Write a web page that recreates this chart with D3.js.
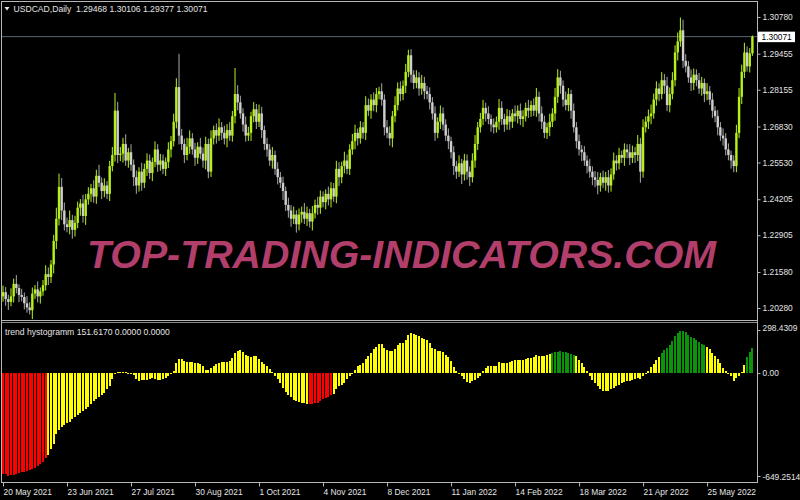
<!DOCTYPE html>
<html><head><meta charset="utf-8">
<script src="https://cdn.jsdelivr.net/npm/d3@7"></script>
<style>html,body{margin:0;padding:0;background:#000;}svg{display:block}</style>
</head><body>
<svg id="chart" width="800" height="500"></svg>
<script>
// ---------------- DATA ----------------
const symbolTitle = "USDCAD,Daily  1.29468 1.30106 1.29377 1.30071";
const indicatorTitle = "trend hystogramm 151.6170 0.0000 0.0000";
const lastPrice = 1.30071;

const opens = [
1.2070,1.2085,1.2060,1.2050,1.2070,1.2115,1.2100,1.2075,1.2068,1.2045,
1.2030,1.2020,1.2080,1.2095,1.2070,1.2088,1.2110,1.2150,1.2140,1.2185,
1.2270,1.2350,1.2465,1.2380,1.2330,1.2320,1.2345,1.2310,1.2335,1.2390,
1.2405,1.2360,1.2420,1.2440,1.2460,1.2430,1.2505,1.2480,1.2450,1.2470,
1.2440,1.2540,1.2580,1.2740,1.2580,1.2585,1.2620,1.2560,1.2590,1.2545,
1.2500,1.2470,1.2520,1.2480,1.2530,1.2560,1.2515,1.2555,1.2600,1.2545,
1.2560,1.2530,1.2555,1.2600,1.2630,1.2700,1.2825,1.2650,1.2620,1.2580,
1.2610,1.2640,1.2600,1.2570,1.2610,1.2585,1.2560,1.2620,1.2520,1.2640,
1.2670,1.2650,1.2680,1.2660,1.2640,1.2670,1.2650,1.2720,1.2800,1.2770,
1.2730,1.2690,1.2650,1.2660,1.2720,1.2745,1.2700,1.2730,1.2670,1.2620,
1.2600,1.2560,1.2580,1.2530,1.2500,1.2480,1.2450,1.2400,1.2380,1.2350,
1.2365,1.2330,1.2365,1.2375,1.2350,1.2370,1.2340,1.2370,1.2400,1.2390,
1.2430,1.2410,1.2440,1.2420,1.2460,1.2430,1.2530,1.2500,1.2540,1.2560,
1.2530,1.2600,1.2630,1.2660,1.2640,1.2680,1.2660,1.2760,1.2740,1.2780,
1.2760,1.2800,1.2810,1.2780,1.2680,1.2660,1.2640,1.2720,1.2760,1.2820,
1.2800,1.2830,1.2880,1.2940,1.2870,1.2840,1.2860,1.2820,1.2840,1.2810,
1.2800,1.2770,1.2730,1.2660,1.2700,1.2730,1.2690,1.2650,1.2630,1.2590,
1.2540,1.2520,1.2550,1.2510,1.2560,1.2520,1.2500,1.2560,1.2620,1.2680,
1.2710,1.2750,1.2730,1.2710,1.2690,1.2680,1.2700,1.2750,1.2710,1.2690,
1.2720,1.2700,1.2730,1.2720,1.2740,1.2710,1.2720,1.2750,1.2740,1.2760,
1.2740,1.2790,1.2730,1.2700,1.2660,1.2680,1.2700,1.2730,1.2790,1.2860,
1.2830,1.2780,1.2760,1.2800,1.2740,1.2680,1.2630,1.2600,1.2590,1.2560,
1.2540,1.2520,1.2500,1.2490,1.2470,1.2500,1.2480,1.2500,1.2470,1.2510,
1.2560,1.2550,1.2580,1.2570,1.2600,1.2590,1.2570,1.2590,1.2580,1.2620,
1.2520,1.2680,1.2700,1.2720,1.2730,1.2780,1.2820,1.2800,1.2850,1.2830,
1.2760,1.2800,1.2850,1.2950,1.2990,1.3030,1.2920,1.2900,1.2860,1.2840,
1.2870,1.2850,1.2820,1.2840,1.2800,1.2810,1.2780,1.2740,1.2720,1.2680,
1.2650,1.2640,1.2600,1.2580,1.2560,1.2540,1.2660,1.2790,1.2880,1.2950,
1.2900,1.29468];

const closes = [
1.2085,1.2060,1.2050,1.2070,1.2115,1.2100,1.2075,1.2068,1.2045,1.2030,
1.2020,1.2080,1.2095,1.2070,1.2088,1.2110,1.2150,1.2140,1.2185,1.2270,
1.2350,1.2465,1.2380,1.2330,1.2320,1.2345,1.2310,1.2335,1.2390,1.2405,
1.2360,1.2420,1.2440,1.2460,1.2430,1.2505,1.2480,1.2450,1.2470,1.2440,
1.2540,1.2580,1.2740,1.2580,1.2585,1.2620,1.2560,1.2590,1.2545,1.2500,
1.2470,1.2520,1.2480,1.2530,1.2560,1.2515,1.2555,1.2600,1.2545,1.2560,
1.2530,1.2555,1.2600,1.2630,1.2700,1.2825,1.2650,1.2620,1.2580,1.2610,
1.2640,1.2600,1.2570,1.2610,1.2585,1.2560,1.2620,1.2520,1.2640,1.2670,
1.2650,1.2680,1.2660,1.2640,1.2670,1.2650,1.2720,1.2800,1.2770,1.2730,
1.2690,1.2650,1.2660,1.2720,1.2745,1.2700,1.2730,1.2670,1.2620,1.2600,
1.2560,1.2580,1.2530,1.2500,1.2480,1.2450,1.2400,1.2380,1.2350,1.2365,
1.2330,1.2365,1.2375,1.2350,1.2370,1.2340,1.2370,1.2400,1.2390,1.2430,
1.2410,1.2440,1.2420,1.2460,1.2430,1.2530,1.2500,1.2540,1.2560,1.2530,
1.2600,1.2630,1.2660,1.2640,1.2680,1.2660,1.2760,1.2740,1.2780,1.2760,
1.2800,1.2810,1.2780,1.2680,1.2660,1.2640,1.2720,1.2760,1.2820,1.2800,
1.2830,1.2880,1.2940,1.2870,1.2840,1.2860,1.2820,1.2840,1.2810,1.2800,
1.2770,1.2730,1.2660,1.2700,1.2730,1.2690,1.2650,1.2630,1.2590,1.2540,
1.2520,1.2550,1.2510,1.2560,1.2520,1.2500,1.2560,1.2620,1.2680,1.2710,
1.2750,1.2730,1.2710,1.2690,1.2680,1.2700,1.2750,1.2710,1.2690,1.2720,
1.2700,1.2730,1.2720,1.2740,1.2710,1.2720,1.2750,1.2740,1.2760,1.2740,
1.2790,1.2730,1.2700,1.2660,1.2680,1.2700,1.2730,1.2790,1.2860,1.2830,
1.2780,1.2760,1.2800,1.2740,1.2680,1.2630,1.2600,1.2590,1.2560,1.2540,
1.2520,1.2500,1.2490,1.2470,1.2500,1.2480,1.2500,1.2470,1.2510,1.2560,
1.2550,1.2580,1.2570,1.2600,1.2590,1.2570,1.2590,1.2580,1.2620,1.2520,
1.2680,1.2700,1.2720,1.2730,1.2780,1.2820,1.2800,1.2850,1.2830,1.2760,
1.2800,1.2850,1.2950,1.2990,1.3030,1.2920,1.2900,1.2860,1.2840,1.2870,
1.2850,1.2820,1.2840,1.2800,1.2810,1.2780,1.2740,1.2720,1.2680,1.2650,
1.2640,1.2600,1.2580,1.2560,1.2540,1.2660,1.2790,1.2880,1.2950,1.2900,
1.29468,1.30071];

// wick extension beyond the candle body, in pips (0.0001)
const upperWickPips = [
24,19,16,29,19,32,13,22,16,26, 19,22,16,29,14,19,32,24,16,22,
40,48,32,29,24,35,19,26,22,16, 32,19,24,16,29,22,40,19,26,16,
19,29,64,32,24,22,35,16,29,19, 24,16,32,19,26,22,16,29,19,24,
22,16,26,19,29,32,120,24,19,32, 29,19,24,16,32,22,26,19,29,16,
24,32,19,26,22,29,19,94,32,24, 19,29,22,16,26,19,32,24,16,22,
19,29,16,24,19,22,16,26,19,29, 16,22,19,32,24,16,26,19,29,22,
19,16,26,22,19,29,24,16,32,22, 19,26,29,16,22,19,32,24,19,26,
22,16,29,19,26,24,19,32,22,26, 19,29,20,22,16,26,19,29,22,19,
24,19,26,16,29,22,19,26,16,22, 19,29,16,24,22,19,26,32,19,22,
29,19,26,16,22,19,32,24,19,26, 22,16,29,19,26,22,19,29,16,24,
32,19,26,22,16,29,19,32,30,24, 19,29,22,16,26,19,24,16,22,19,
26,19,22,29,16,24,19,26,22,29, 19,26,16,22,19,29,24,19,32,22,
29,19,24,32,22,26,19,29,22,32, 24,29,26,32,46,38,24,19,29,22,
19,26,22,16,29,19,24,16,22,19, 26,19,22,16,19,29,32,26,35,22,
19,4];
const lowerWickPips = [
19,24,29,16,22,19,26,16,22,19, 15,32,19,22,26,16,19,29,22,32,
29,24,35,22,19,26,32,24,19,29, 24,32,19,29,22,26,16,29,22,19,
26,19,24,29,22,32,19,26,22,32, 30,22,29,19,26,22,29,19,26,22,
19,26,22,29,19,24,32,22,29,19, 26,19,29,22,19,26,32,24,19,22,
29,19,26,22,32,19,22,26,29,19, 26,22,19,29,22,26,19,29,22,26,
19,29,22,26,19,32,22,26,29,19, 30,22,29,19,26,22,32,19,26,22,
19,26,22,29,19,24,32,22,26,19, 22,19,29,26,19,22,26,19,29,22,
26,19,22,29,19,26,32,22,19,26, 22,26,19,29,22,19,26,22,29,19,
26,22,29,19,26,22,19,29,22,32, 26,19,35,22,29,32,19,26,22,19,
22,29,19,26,22,19,29,22,26,19, 29,22,19,26,22,29,19,26,22,19,
22,29,26,19,22,32,19,26,22,29, 26,19,22,29,19,26,22,32,19,26,
22,29,26,32,22,19,29,26,22,19, 26,22,19,29,22,26,19,29,22,40,
22,19,26,29,19,22,26,19,29,22, 26,19,22,29,19,26,22,19,29,26,
22,19,26,29,22,19,26,22,29,19, 26,22,19,29,22,22,19,26,22,19,
22,9];

const histValues = [
-600,-604,-612,-610,-606,-600,-596,-592,-590,-586,-580,-574,-566,-556,-544,-530,-504,
-490,-450,-420,-364,-340,-324,-312,-300,-290,-276,-264,-250,-236,-224,-216,-204,-184,-164,-154,-144,-130,-116,-96,-76,-36,-4,
8,6,4,4,-4,-2,-10,-36,-46,-44,-40,-40,-36,-32,-36,-40,-40,-36,-30,-16,-4,10,
60,86,84,70,64,68,64,60,58,56,40,20,16,30,44,56,60,64,66,66,70,90,120,132,138,124,110,104,96,104,100,84,
66,56,40,24,6,
-16,-36,-60,-90,-110,-130,-144,-160,-166,-172,-176,-178,-182,-186,-184,-180,-176,-166,-156,-146,-140,-132,-124,-96,-80,-72,-60,-36,-20,0,
20,40,50,60,84,104,120,144,156,174,174,150,140,134,134,144,170,180,180,196,224,236,230,224,220,210,204,196,180,150,144,134,134,124,106,96,70,36,14,
-4,-20,-36,-52,-60,-50,-40,-30,-16,10,30,40,44,44,44,64,60,60,60,64,70,76,80,76,76,84,90,90,94,110,100,
104,100,106,112,118,124,128,130,128,126,122,116,110,100,80,60,35,10,-15,-40,-60,-80,-95,-105,-108,-104,-96,-88,-78,-70,-62,-55,-50,-46,-40,-36,-30,-34,-20,-5,15,35,55,75,95,120,140,150,165,190,220,240,
252,252,246,226,216,208,198,186,172,166,158,146,122,102,82,58,28,10,-2,-16,-46,-32,-16,4,50,94,124,151.617];
const histRedRanges = [[0,16],[115,123]];
const histGreenRanges = [[206,214],[247,263],[279,281]];

const priceTicks = [1.30780,1.29455,1.28155,1.26830,1.25530,1.24205,1.22905,1.21580,1.20280];
const histTicks = [298.4309, 0, -649.2514];
const histTickLabels = ["298.4309","0.00","-649.2514"];
const dateTickBars = [0,24,48,72,96,120,144,168,192,216,240,264];
const dateTickLabels = ["20 May 2021","23 Jun 2021","27 Jul 2021","30 Aug 2021","1 Oct 2021","4 Nov 2021",
  "8 Dec 2021","11 Jan 2022","14 Feb 2022","18 Mar 2022","21 Apr 2022","25 May 2022"];
const watermark = "TOP-TRADING-INDICATORS.COM";

// ---------------- DRAWING ----------------
const W = 800, H = 500;
const left = 2, axisX = 757;
const mainTop = 2, mainBottom = 320, histTop = 323, histBottom = 482;
const FONT = "'Liberation Sans', Arial, sans-serif";
const textCol = "#e4e4e4", frameCol = "#b8b8b8";
const bullCol = "#b6f21a", bearCol = "#cfcfcf", bearWick = "#a8a8a8";

const svg = d3.select("#chart");
svg.append("rect").attr("width", W).attr("height", H).attr("fill", "#000");

const defs = svg.append("defs");
defs.append("clipPath").attr("id","clipMain").append("rect")
  .attr("x", left).attr("y", mainTop).attr("width", axisX-left).attr("height", mainBottom-mainTop);
defs.append("clipPath").attr("id","clipHist").append("rect")
  .attr("x", left).attr("y", histTop).attr("width", axisX-left).attr("height", histBottom-histTop);

const x = d3.scaleLinear().domain([0, closes.length-1]).range([3, 752.4]);
const yP = d3.scaleLinear().domain([1.20280, 1.30780]).range([308, 17]);
const yH = d3.scaleLinear().domain([histTicks[2], histTicks[0]]).range([histBottom, histTop]);

// current price line (behind candles)
svg.append("line").attr("x1", left).attr("x2", axisX).attr("y1", yP(lastPrice)).attr("y2", yP(lastPrice))
  .attr("stroke", "#5c6670").attr("stroke-width", 1);

// watermark
svg.append("text").attr("x", 87).attr("y", 268)
  .attr("textLength", 629).attr("lengthAdjust", "spacingAndGlyphs")
  .attr("font-family", FONT).attr("font-weight", "bold").attr("font-style", "italic")
  .attr("font-size", 39).attr("fill", "#b23f6b").text(watermark);

// candles
const bars = closes.map((c, i) => ({
  i, o: opens[i], c,
  h: Math.max(opens[i], c) + upperWickPips[i] / 10000,
  l: Math.min(opens[i], c) - lowerWickPips[i] / 10000
}));
const gc = svg.append("g").attr("clip-path", "url(#clipMain)");
gc.selectAll("rect.wick").data(bars).join("rect").attr("class", "wick")
  .attr("x", d => x(d.i) - 0.5).attr("width", 1)
  .attr("y", d => yP(d.h)).attr("height", d => yP(d.l) - yP(d.h))
  .attr("fill", d => d.c >= d.o ? bullCol : bearWick);
gc.selectAll("rect.body").data(bars).join("rect").attr("class", "body")
  .attr("x", d => x(d.i) - 1.2).attr("width", 2.4)
  .attr("y", d => yP(Math.max(d.o, d.c)))
  .attr("height", d => Math.max(1, Math.abs(yP(d.o) - yP(d.c))))
  .attr("fill", d => d.c >= d.o ? bullCol : bearCol);

// histogram
const inRanges = (i, rs) => rs.some(r => i >= r[0] && i <= r[1]);
const histColor = i => inRanges(i, histRedRanges) ? "#ff0000" : inRanges(i, histGreenRanges) ? "#0c930c" : "#ffff00";
const gh = svg.append("g").attr("clip-path", "url(#clipHist)").attr("shape-rendering", "crispEdges");
gh.selectAll("rect").data(histValues.map((v, i) => ({ i, v }))).join("rect")
  .attr("x", d => x(d.i) - 1).attr("width", 2)
  .attr("y", d => Math.min(yH(0), yH(d.v)))
  .attr("height", d => Math.max(1, Math.abs(yH(d.v) - yH(0))))
  .attr("fill", d => histColor(d.i));

// frame
const fr = svg.append("g").attr("stroke", frameCol).attr("shape-rendering", "crispEdges");
fr.append("line").attr("x1", left).attr("x2", axisX).attr("y1", 1.5).attr("y2", 1.5);
fr.append("line").attr("x1", 1.5).attr("x2", 1.5).attr("y1", 1).attr("y2", histBottom);
fr.append("line").attr("x1", axisX + 0.5).attr("x2", axisX + 0.5).attr("y1", 1).attr("y2", histBottom + 0.5);
fr.append("line").attr("x1", left).attr("x2", axisX).attr("y1", 320.5).attr("y2", 320.5);
fr.append("line").attr("x1", left).attr("x2", axisX).attr("y1", 322.5).attr("y2", 322.5).attr("stroke", "#8a8a8a");
fr.append("line").attr("x1", 1).attr("x2", axisX + 0.5).attr("y1", histBottom + 0.5).attr("y2", histBottom + 0.5);

function styleAxis(g) {
  g.select(".domain").remove();
  g.attr("font-family", FONT).attr("font-size", 8.4);
  g.selectAll("line").attr("stroke", frameCol);
  g.selectAll("text").attr("fill", textCol);
}

// price axis
svg.append("g").attr("transform", `translate(${axisX + 0.5},0)`)
  .call(d3.axisRight(yP).tickValues(priceTicks).tickFormat(d3.format(".5f")).tickSize(3).tickPadding(2))
  .call(styleAxis);

// last price label
const lpY = yP(lastPrice);
svg.append("rect").attr("x", 758).attr("y", lpY - 5).attr("width", 37).attr("height", 10.5).attr("fill", "#ffffff");
svg.append("text").attr("x", 761.5).attr("y", lpY).attr("dy", "0.35em")
  .attr("font-family", FONT).attr("font-size", 8.4).attr("fill", "#000").text(d3.format(".5f")(lastPrice));

// histogram axis
const hAxis = svg.append("g").attr("transform", `translate(${axisX + 0.5},0)`)
  .call(d3.axisRight(yH).tickValues(histTicks).tickFormat((d, i) => histTickLabels[i]).tickSize(3).tickPadding(2))
  .call(styleAxis);
hAxis.selectAll(".tick").filter(d => d === histTicks[0]).select("text").attr("dy", "0.95em");
hAxis.selectAll(".tick").filter(d => d === histTicks[0]).select("line").attr("transform", "translate(0,7)");
hAxis.selectAll(".tick").filter(d => d === histTicks[2]).select("text").attr("dy", "-0.35em");
hAxis.selectAll(".tick").filter(d => d === histTicks[2]).select("line").attr("transform", "translate(0,-6)");

// date axis
svg.append("g").attr("transform", `translate(0,${histBottom + 0.5})`)
  .call(d3.axisBottom(x).tickValues(dateTickBars).tickFormat((d, i) => dateTickLabels[i]).tickSize(4).tickPadding(2.5))
  .call(styleAxis)
  .call(g => g.selectAll("text").attr("text-anchor", "start").attr("x", 0));

// titles
svg.append("path").attr("d", "M4.5,7 L9.5,7 L7,10.5 Z").attr("fill", textCol);
svg.append("text").attr("x", 13.5).attr("y", 12).attr("font-family", FONT).attr("font-size", 8.6)
  .attr("fill", textCol).attr("xml:space", "preserve").style("white-space", "pre").text(symbolTitle);
svg.append("text").attr("x", 5).attr("y", 335).attr("font-family", FONT).attr("font-size", 8.6)
  .attr("fill", textCol).text(indicatorTitle);
</script>
</body></html>
